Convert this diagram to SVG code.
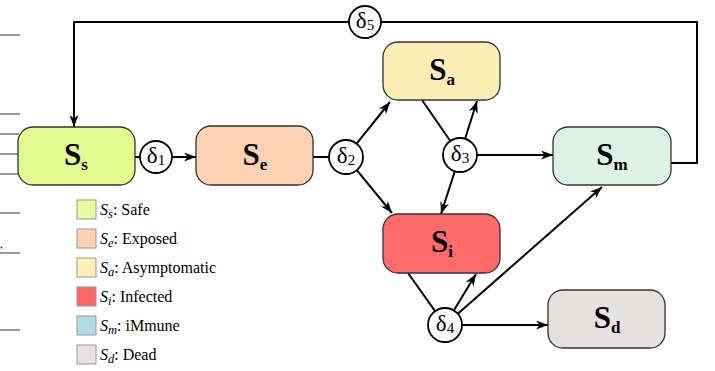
<svg xmlns="http://www.w3.org/2000/svg" width="715" height="371" viewBox="0 0 715 371">
<style>
.node rect{stroke:#333;stroke-width:1.3}
.lbl{font-family:"Liberation Serif","Times New Roman",serif;font-weight:bold;font-size:31px;fill:#000;text-anchor:middle}
.sub{font-size:17px}
.rate circle{fill:#fff;stroke:#000;stroke-width:1.8}
.rate text{font-family:"Liberation Serif","Times New Roman",serif;font-size:23px;fill:#000;text-anchor:middle}
.rs{font-size:15px}
.edge{stroke:#000;stroke-width:2;fill:none}
.stray{stroke:#555;stroke-width:1.2}
.leg rect{stroke:#999;stroke-width:1}
.leg text{font-family:"Liberation Serif","Times New Roman",serif;font-size:16px;fill:#000}
.it{font-style:italic}
.ls{font-style:italic;font-size:12.5px}
</style>
<defs>
<marker id="arr" markerUnits="userSpaceOnUse" markerWidth="14" markerHeight="10" refX="12" refY="4.5" orient="auto">
<path d="M0,0 L12,4.5 L0,9 L3.5,4.5 z" fill="#000"/>
</marker>
</defs>
<rect width="715" height="371" fill="#fff"/>
<g id="stray">
<line class="stray" x1="0" y1="35" x2="20" y2="35"/>
<line class="stray" x1="0" y1="114" x2="20" y2="114"/>
<line class="stray" x1="0" y1="134" x2="19" y2="134"/>
<line class="stray" x1="0" y1="154" x2="19" y2="154"/>
<line class="stray" x1="0" y1="174" x2="19" y2="174"/>
<line class="stray" x1="0" y1="213" x2="20" y2="213"/>
<line class="stray" x1="0" y1="253" x2="20" y2="253"/>
<line class="stray" x1="0" y1="330" x2="20" y2="330"/>
<circle cx="1.5" cy="247.5" r="1" fill="#333"/>
</g>
<g id="connectors">
<polyline class="edge" points="671,163 697,163 697,22 381,22"/>
<polyline class="edge" points="349,22 74,22 74,127" marker-end="url(#arr)"/>
<line class="edge" x1="135" y1="157" x2="140" y2="157"/>
<line class="edge" x1="172" y1="157" x2="196" y2="157" marker-end="url(#arr)"/>
<line class="edge" x1="313" y1="157" x2="329" y2="157"/>
<line class="edge" x1="356.6" y1="143.7" x2="390" y2="102" marker-end="url(#arr)"/>
<line class="edge" x1="356.8" y1="170.1" x2="392" y2="213" marker-end="url(#arr)"/>
<line class="edge" x1="422" y1="100" x2="450.3" y2="141"/>
<line class="edge" x1="465.1" y1="138.8" x2="477" y2="101" marker-end="url(#arr)"/>
<line class="edge" x1="477" y1="155" x2="553" y2="155" marker-end="url(#arr)"/>
<line class="edge" x1="454.8" y1="171.2" x2="441" y2="214" marker-end="url(#arr)"/>
<line class="edge" x1="408" y1="273" x2="435.1" y2="311.1"/>
<line class="edge" x1="453.8" y1="310.5" x2="476" y2="274" marker-end="url(#arr)"/>
<line class="edge" x1="457.8" y1="313.8" x2="602" y2="187" marker-end="url(#arr)"/>
<line class="edge" x1="462" y1="325" x2="548" y2="325" marker-end="url(#arr)"/>
</g>
<g id="Ss" class="node"><rect x="18" y="127" width="117" height="58" rx="15" fill="#e3fa91"/><text class="lbl" x="76" y="165">S<tspan class="sub" dy="5">s</tspan></text></g>
<g id="Se" class="node"><rect x="196" y="126" width="117" height="59" rx="15" fill="#fdd1b3"/><text class="lbl" x="255" y="165">S<tspan class="sub" dy="5">e</tspan></text></g>
<g id="Sa" class="node"><rect x="383" y="42" width="117" height="58" rx="15" fill="#fdeeb6"/><text class="lbl" x="442" y="80">S<tspan class="sub" dy="5">a</tspan></text></g>
<g id="Sm" class="node"><rect x="553" y="127" width="118" height="58" rx="15" fill="#dbf2e5"/><text class="lbl" x="612" y="165">S<tspan class="sub" dy="5">m</tspan></text></g>
<g id="Si" class="node"><rect x="383" y="214" width="117" height="59" rx="15" fill="#ff6b6b"/><text class="lbl" x="442" y="252">S<tspan class="sub" dy="5">i</tspan></text></g>
<g id="Sd" class="node"><rect x="548" y="290" width="117" height="58" rx="15" fill="#e6e1e1"/><text class="lbl" x="607" y="328">S<tspan class="sub" dy="5">d</tspan></text></g>
<g id="d1" class="rate"><circle cx="156" cy="157" r="16"/><text x="156" y="163">δ<tspan class="rs" dy="2">1</tspan></text></g>
<g id="d2" class="rate"><circle cx="346" cy="157" r="17"/><text x="346" y="163">δ<tspan class="rs" dy="2">2</tspan></text></g>
<g id="d3" class="rate"><circle cx="460" cy="155" r="17"/><text x="460" y="161">δ<tspan class="rs" dy="2">3</tspan></text></g>
<g id="d4" class="rate"><circle cx="445" cy="325" r="17"/><text x="445" y="331">δ<tspan class="rs" dy="2">4</tspan></text></g>
<g id="d5" class="rate"><circle cx="365" cy="22" r="16"/><text x="365" y="28">δ<tspan class="rs" dy="2">5</tspan></text></g>
<g id="legend" class="leg">
<rect x="77" y="200" width="19" height="19" fill="#e5fe9b"/>
<text x="100" y="215"><tspan class="it">S</tspan><tspan class="ls" dy="3">s</tspan><tspan dy="-3">: Safe</tspan></text>
<rect x="77" y="229" width="19" height="19" fill="#fdd0b4"/>
<text x="100" y="244"><tspan class="it">S</tspan><tspan class="ls" dy="3">e</tspan><tspan dy="-3">: Exposed</tspan></text>
<rect x="77" y="258" width="19" height="19" fill="#fff0b8"/>
<text x="100" y="273"><tspan class="it">S</tspan><tspan class="ls" dy="3">a</tspan><tspan dy="-3">: Asymptomatic</tspan></text>
<rect x="77" y="287" width="19" height="19" fill="#ff6666"/>
<text x="100" y="302"><tspan class="it">S</tspan><tspan class="ls" dy="3">i</tspan><tspan dy="-3">: Infected</tspan></text>
<rect x="77" y="316" width="19" height="19" fill="#b2dde6"/>
<text x="100" y="331"><tspan class="it">S</tspan><tspan class="ls" dy="3">m</tspan><tspan dy="-3">: iMmune</tspan></text>
<rect x="77" y="345" width="19" height="19" fill="#e6e2e2"/>
<text x="100" y="360"><tspan class="it">S</tspan><tspan class="ls" dy="3">d</tspan><tspan dy="-3">: Dead</tspan></text>
</g>
</svg>
